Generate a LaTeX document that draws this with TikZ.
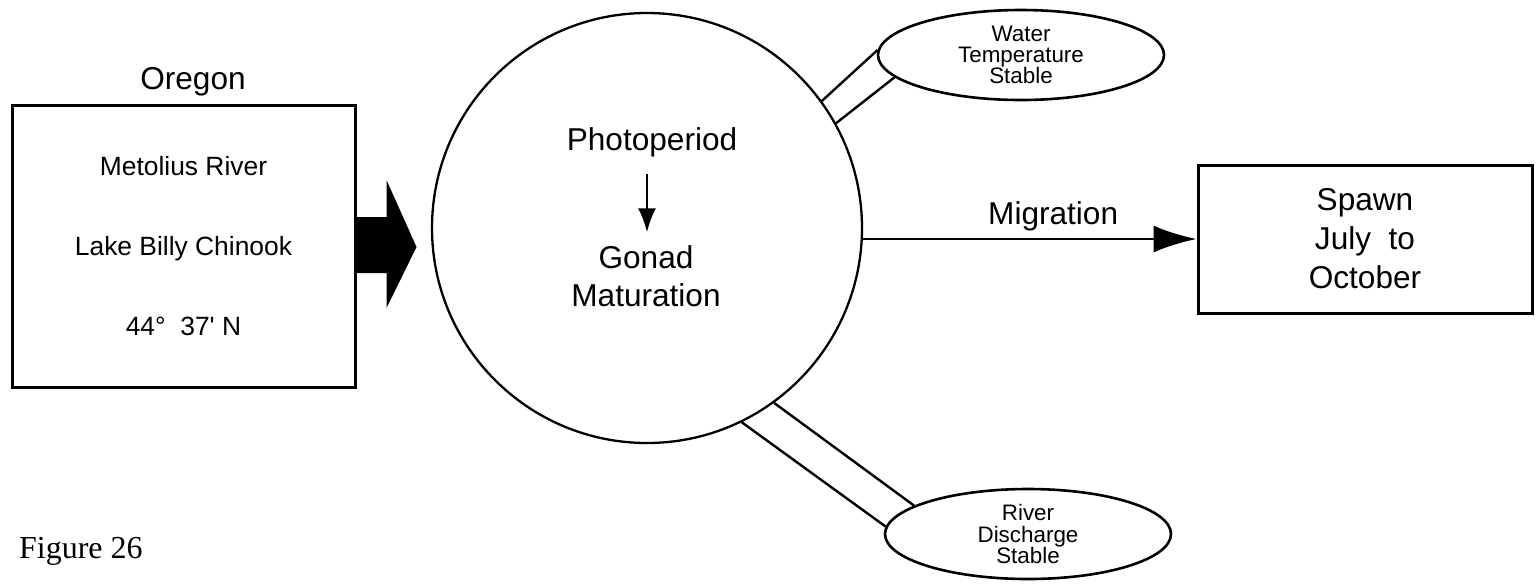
\documentclass[tikz,border=0pt]{standalone}
\usepackage{fontspec}
\setmainfont{Liberation Sans}
\newfontfamily\capfont{Liberation Serif}
\usetikzlibrary{arrows.meta,shapes}
\tikzstyle{box}=[draw,line width=1.5pt,inner sep=0pt,align=center]
\tikzstyle{blob}=[circle,draw,line width=1.15pt,minimum size=215pt,inner sep=0pt]
\tikzstyle{oval}=[ellipse,draw,line width=1.3pt,minimum width=143pt,minimum height=45pt,inner sep=0pt,align=center,font=\fontsize{11.2}{10.6}\selectfont]
\tikzstyle{edge} = [draw,line width=1.2pt,-]
\tikzstyle{big}=[font=\fontsize{15.8}{19}\selectfont]

\begin{document}
\begin{tikzpicture}[x=0.5pt,y=-0.5pt]
    \useasboundingbox (0,0) rectangle (1537,585);
    % First we draw the place box and the fat arrow out of it
    \node[big] (oregon) at (193,82) {Oregon};
    \node[box,minimum width=171.5pt,minimum height=141pt,font=\fontsize{13.2}{40}\selectfont] (place) at (183.5,246)
        {Metolius River\\Lake Billy Chinook\\44\textdegree\ \ 37\textquotesingle\ N};
    \fill (place.east) ++(0,-29) -- ++(30,0) -- ++(0,-37) -- ++(30,67) -- ++(-30,61) -- ++(0,-35) -- ++(-30,0) -- cycle;
    % The circle with what goes on inside it
    \node[blob] (circ) at (647,228) {};
    \node[big] (photo) at (652,142) {Photoperiod};
    \node[big,align=center] (gonad) at (646,276) {Gonad\\Maturation};
    \draw[line width=1.2pt,-{Latex[length=12pt,width=9pt]},shorten <=5pt,shorten >=3pt] (photo.south -| circ) -- (gonad.north -| circ);
    % Migration to the spawning box
    \node[box,minimum width=167pt,minimum height=74pt,font=\fontsize{15.8}{19.5}\selectfont] (spawn) at (1365,239)
        {Spawn\\July\ \ to\\October};
    \draw[edge,-{Latex[length=21.5pt,width=13.5pt]}] (circ.east |- spawn.west) -- node[big,above,pos=0.57] (mig) {Migration} (spawn.west);
    % The two steady conditions, each joined by a pair of lines
    \node[oval] (water) at (1021,55) {Water\\Temperature\\Stable};
    \node[oval] (flow) at (1028,534) {River\\Discharge\\Stable};
    \foreach \a/\b in {36/178, 29/190}
        \path[edge] (circ.\a) -- (water.\b);
    \foreach \a/\b in {-54/166, -64/177}
        \path[edge] (circ.\a) -- (flow.\b);
    \node[anchor=base west,font=\capfont\fontsize{16}{19}\selectfont] (fig) at (12,558) {Figure 26};
\end{tikzpicture}
\end{document}
